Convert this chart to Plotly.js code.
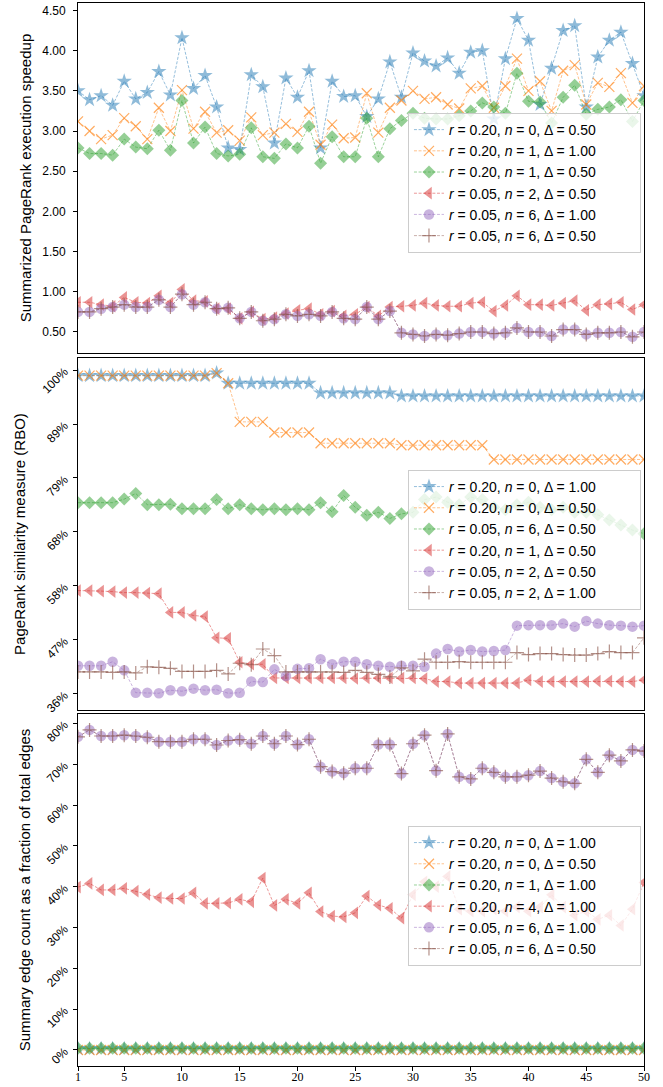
<!DOCTYPE html>
<html>
<head>
<meta charset="utf-8">
<script src="https://cdn.plot.ly/plotly-3.0.1.min.js"></script>
<style>
html,body{margin:0;padding:0;background:#ffffff;}
#chart{width:663px;height:1087px;}
</style>
</head>
<body>
<div id="chart"></div>
<script>
// ---------- shared x categories ----------
const runs = [1,2,3,4,5,6,7,8,9,10,11,12,13,14,15,16,17,18,19,20,21,22,23,24,25,
              26,27,28,29,30,31,32,33,34,35,36,37,38,39,40,41,42,43,44,45,46,47,48,49,50];
const xTickVals = [1,5,10,15,20,25,30,35,40,45,50];

// ---------- panel 1: Summarized PageRank execution speedup ----------
const speedupLegend = [
  ["0.20","0","0.50"], ["0.20","1","1.00"], ["0.20","1","0.50"],
  ["0.05","2","0.50"], ["0.05","6","1.00"], ["0.05","6","0.50"]
];
const speedupBlue = [3.50,3.39,3.44,3.32,3.62,3.40,3.48,3.74,3.45,4.16,
                     3.53,3.69,3.30,2.79,2.77,3.70,3.55,2.85,3.66,3.42,
                     3.75,2.79,3.62,3.43,3.44,3.18,3.40,3.86,3.42,3.97,
                     3.87,3.81,3.91,3.72,3.98,4.00,3.15,3.90,4.40,4.13,
                     3.33,3.78,4.25,4.31,3.30,3.92,4.13,4.23,3.84,3.44];
const speedupOrange = [3.12,3.00,2.90,2.95,3.16,3.06,2.90,3.29,3.00,3.51,
                       3.03,3.24,2.98,3.01,2.88,3.17,2.95,2.98,3.09,2.99,
                       3.24,2.83,3.08,2.91,2.92,3.47,2.98,3.29,3.38,3.50,
                       3.40,3.42,3.33,3.28,3.53,3.56,3.29,3.56,3.90,3.50,
                       3.62,3.25,3.75,3.82,3.33,3.60,3.55,3.72,3.35,3.56];
const speedupGreen = [2.79,2.72,2.72,2.70,2.90,2.80,2.78,3.01,2.76,3.38,
                      2.85,3.05,2.72,2.69,2.71,3.04,2.68,2.66,2.84,2.79,
                      3.06,2.60,2.93,2.68,2.68,3.16,2.68,3.03,3.13,3.22,
                      3.16,3.15,3.15,3.19,3.25,3.35,3.30,3.22,3.72,3.37,
                      3.36,3.10,3.42,3.57,3.21,3.27,3.30,3.39,3.12,3.38];
const speedupRed = [0.87,0.87,0.84,0.82,0.93,0.87,0.86,0.95,0.86,1.03,
                    0.89,0.88,0.79,0.79,0.67,0.75,0.66,0.68,0.73,0.77,
                    0.79,0.72,0.76,0.70,0.72,0.81,0.70,0.81,0.82,0.83,
                    0.86,0.83,0.82,0.82,0.86,0.87,0.76,0.83,0.95,0.84,
                    0.84,0.83,0.86,0.89,0.77,0.84,0.85,0.87,0.78,0.84];
const speedupPurple = [0.75,0.75,0.79,0.81,0.84,0.81,0.81,0.90,0.81,0.97,
                       0.84,0.87,0.79,0.80,0.67,0.75,0.64,0.66,0.72,0.70,
                       0.72,0.70,0.75,0.67,0.66,0.81,0.66,0.76,0.49,0.47,
                       0.45,0.47,0.46,0.48,0.50,0.50,0.48,0.49,0.55,0.50,
                       0.50,0.45,0.53,0.53,0.47,0.49,0.49,0.50,0.44,0.50];
const speedupBrown = [0.75,0.75,0.79,0.81,0.84,0.81,0.81,0.90,0.81,0.97,
                      0.84,0.87,0.79,0.80,0.67,0.75,0.64,0.66,0.72,0.70,
                      0.72,0.70,0.75,0.67,0.66,0.81,0.66,0.76,0.49,0.47,
                      0.45,0.47,0.46,0.48,0.50,0.50,0.48,0.49,0.55,0.50,
                      0.50,0.45,0.53,0.53,0.47,0.49,0.49,0.50,0.44,0.50];
const speedupTickVals = [0.5,1.0,1.5,2.0,2.5,3.0,3.5,4.0,4.5];
const speedupTickText = ["0.50","1.00","1.50","2.00","2.50","3.00","3.50","4.00","4.50"];

// ---------- panel 2: PageRank similarity measure (RBO), in percent ----------
const rboLegend = [
  ["0.20","0","1.00"], ["0.20","0","0.50"], ["0.05","6","0.50"],
  ["0.20","1","0.50"], ["0.05","2","0.50"], ["0.05","2","1.00"]
];
const rboBlue = [98.9,98.9,98.9,98.9,98.9,98.9,98.9,98.9,98.9,98.9,
                 98.9,98.9,99.4,97.4,97.4,97.4,97.4,97.4,97.4,97.4,
                 97.4,95.5,95.5,95.5,95.5,95.5,95.5,95.5,94.9,94.9,
                 94.9,94.9,94.9,94.9,94.9,94.9,94.9,94.9,94.9,94.9,
                 94.9,94.9,94.9,94.9,94.9,94.9,94.9,94.9,94.9,94.9];
const rboOrange = [98.9,98.9,98.9,98.9,98.9,98.9,98.9,98.9,98.9,98.9,
                   98.9,98.9,99.4,97.4,89.8,89.8,89.8,87.7,87.7,87.7,
                   87.7,85.6,85.6,85.6,85.6,85.6,85.6,85.6,85.2,85.2,
                   85.2,85.2,85.2,85.2,85.2,85.2,82.4,82.4,82.4,82.4,
                   82.4,82.4,82.4,82.4,82.4,82.4,82.4,82.4,82.4,82.4];
const rboGreen = [73.9,73.9,73.9,73.9,74.6,75.7,73.5,73.5,73.6,72.7,
                  72.7,72.7,74.5,72.7,73.5,72.7,72.5,72.7,72.5,72.7,
                  72.5,73.9,72.1,75.3,73.0,71.4,72.0,70.8,71.7,72.0,
                  74.5,75.0,74.0,73.5,75.0,74.5,73.0,72.5,73.5,74.0,
                  73.0,72.5,73.0,72.0,72.0,71.5,70.5,69.5,68.5,67.8];
const rboRed = [56.6,56.6,56.5,56.4,56.2,56.2,56.1,56.0,52.3,52.3,
                51.7,51.5,47.3,47.2,42.5,42.1,42.1,39.4,39.4,39.4,
                39.4,39.4,39.4,39.4,39.3,39.4,39.4,39.4,39.4,39.4,
                39.3,38.7,38.7,38.4,38.4,38.4,38.4,38.4,38.4,39.0,
                38.7,38.7,38.7,38.7,38.7,38.8,38.8,38.7,38.7,39.0];
const rboPurple = [41.8,41.8,41.8,42.6,40.9,36.5,36.5,36.4,37.0,36.8,
                   37.3,37.0,37.1,36.4,36.5,38.7,38.6,41.1,39.8,41.2,
                   41.3,43.1,42.1,42.6,42.6,42.1,41.8,41.6,41.8,41.8,
                   41.6,44.2,45.1,44.6,44.9,44.6,44.7,44.9,49.7,49.8,
                   49.8,49.8,50.1,49.5,50.6,50.1,49.8,49.7,49.5,49.7];
const rboBrown = [40.6,40.6,40.6,40.5,40.6,40.4,41.6,41.5,41.3,40.7,
                  40.7,40.7,40.9,40.2,42.3,42.0,45.1,43.8,40.6,40.6,
                  40.6,40.6,40.6,40.5,40.9,40.5,40.1,39.6,41.4,40.8,
                  43.1,42.5,42.5,42.6,42.5,42.5,42.5,42.5,44.4,44.0,
                  44.2,44.2,44.0,43.9,43.9,44.2,44.6,44.4,44.4,47.3];
const rboTickVals = [36.3,46.92,57.53,68.15,78.77,89.38,100];
const rboTickText = ["36%","47%","58%","68%","79%","89%","100%"];

// ---------- panel 3: Summary edge count as a fraction of total edges (%) ----------
const edgeLegend = [
  ["0.20","0","1.00"], ["0.20","0","0.50"], ["0.20","1","1.00"],
  ["0.20","4","1.00"], ["0.05","6","1.00"], ["0.05","6","0.50"]
];
const edgeBlue = [0.3,0.3,0.3,0.3,0.3,0.3,0.3,0.3,0.3,0.3,
                  0.3,0.3,0.3,0.3,0.3,0.3,0.3,0.3,0.3,0.3,
                  0.3,0.3,0.3,0.3,0.3,0.3,0.3,0.3,0.3,0.3,
                  0.3,0.3,0.3,0.3,0.3,0.3,0.3,0.3,0.3,0.3,
                  0.3,0.3,0.3,0.3,0.3,0.3,0.3,0.3,0.3,0.3];
const edgeOrange = [0.0,0.0,0.0,0.0,0.0,0.0,0.0,0.0,0.0,0.0,
                    0.0,0.0,0.0,0.0,0.0,0.0,0.0,0.0,0.0,0.0,
                    0.0,0.0,0.0,0.0,0.0,0.0,0.0,0.0,0.0,0.0,
                    0.0,0.0,0.0,0.0,0.0,0.0,0.0,0.0,0.0,0.0,
                    0.0,0.0,0.0,0.0,0.0,0.0,0.0,0.0,0.0,0.0];
const edgeGreen = [0.4,0.4,0.4,0.4,0.4,0.4,0.4,0.4,0.4,0.4,
                   0.4,0.4,0.4,0.4,0.4,0.4,0.4,0.4,0.4,0.4,
                   0.4,0.4,0.4,0.4,0.4,0.4,0.4,0.4,0.4,0.4,
                   0.4,0.4,0.4,0.4,0.4,0.4,0.4,0.4,0.4,0.4,
                   0.4,0.4,0.4,0.4,0.4,0.4,0.4,0.4,0.4,0.4];
const edgeRed = [39.9,40.8,39.2,39.2,39.6,38.9,38.1,37.3,37.1,37.1,
                 38.5,35.9,35.9,36.0,36.9,36.3,42.1,35.4,36.9,35.9,
                 38.5,33.9,32.8,32.6,33.6,37.7,35.5,34.7,32.3,38.0,
                 41.2,40.0,42.5,34.5,34.0,34.0,34.5,34.0,35.0,34.0,
                 35.0,38.0,35.0,33.0,34.0,32.0,33.0,30.5,34.5,41.0];
const edgePurple = [76.7,78.4,76.9,76.9,77.1,76.9,76.6,75.5,75.5,75.5,
                    76.1,76.1,74.7,75.8,76.0,75.0,76.9,75.0,76.9,74.8,
                    76.1,69.4,68.2,67.8,69.0,69.0,74.8,74.8,67.7,75.0,
                    77.1,68.4,77.4,66.9,66.4,69.0,68.0,66.9,66.9,67.3,
                    68.3,66.6,65.7,65.3,71.2,68.0,72.2,70.8,73.5,73.2];
const edgeBrown = [76.7,78.4,76.9,76.9,77.1,76.9,76.6,75.5,75.5,75.5,
                   76.1,76.1,74.7,75.8,76.0,75.0,76.9,75.0,76.9,74.8,
                   76.1,69.4,68.2,67.8,69.0,69.0,74.8,74.8,67.7,75.0,
                   77.1,68.4,77.4,66.9,66.4,69.0,68.0,66.9,66.9,67.3,
                   68.3,66.6,65.7,65.3,71.2,68.0,72.2,70.8,73.5,73.2];
const edgeTickVals = [0,10,20,30,40,50,60,70,80];
const edgeTickText = ["0%","10%","20%","30%","40%","50%","60%","70%","80%"];

// ---------- styles (matplotlib tab10 with alpha) ----------
const styles = [
  {rgb:"31,119,180",  symbol:"star",          size:11.5, open:false},
  {rgb:"255,127,14",  symbol:"x-thin",        size:10, open:true},
  {rgb:"44,160,44",   symbol:"diamond",       size:10, open:false},
  {rgb:"214,39,40",   symbol:"triangle-left", size:11, open:false},
  {rgb:"148,103,189", symbol:"circle",        size:10.5, open:false},
  {rgb:"140,86,75",   symbol:"cross-thin",    size:10, open:true}
];

const legendPad = "\u00a0\u00a0\u00a0\u00a0\u00a0\u00a0\u00a0\u00a0\u00a0\u00a0";
function label(p) {
  return "<i>r</i> = " + p[0] + ", <i>n</i> = " + p[1] + ", \u0394 = " + p[2] + legendPad;
}

function makeTraces(seriesList, legendList, xa, ya, legendId) {
  return seriesList.map(function(vals, i) {
    const s = styles[i];
    const mc = "rgba(" + s.rgb + ",0.5)";
    return {
      type: "scatter", mode: "lines+markers",
      x: runs, y: vals,
      xaxis: xa, yaxis: ya, legend: legendId,
      name: label(legendList[i]),
      line: {color: "rgba(" + s.rgb + ",0.6)", width: 0.8, dash: "3px,1.6px"},
      marker: {
        symbol: s.symbol, size: s.size, color: mc,
        line: s.open ? {color: "rgba(" + s.rgb + ",0.65)", width: 1.2} : {width: 0}
      },
      hoverinfo: "skip"
    };
  });
}

const data = []
  .concat(makeTraces([speedupBlue, speedupOrange, speedupGreen, speedupRed, speedupPurple, speedupBrown],
                     speedupLegend, "x", "y", "legend"))
  .concat(makeTraces([rboBlue, rboOrange, rboGreen, rboRed, rboPurple, rboBrown],
                     rboLegend, "x2", "y2", "legend2"))
  .concat(makeTraces([edgeBlue, edgeOrange, edgeGreen, edgeRed, edgePurple, edgeBrown],
                     edgeLegend, "x3", "y3", "legend3"));

const axisLine = {showline: true, linecolor: "#000000", linewidth: 1, mirror: true,
                  showgrid: false, zeroline: false};
const tickFont = {family: "Liberation Sans, Arial, sans-serif", size: 12, color: "#000000"};
const titleFont = {family: "Liberation Sans, Arial, sans-serif", size: 15, color: "#000000"};
const legendBase = {
  xanchor: "left", yanchor: "top", x: 0.583,
  bgcolor: "rgba(255,255,255,0.8)", bordercolor: "#cccccc", borderwidth: 1,
  font: {family: "Liberation Sans, Arial, sans-serif", size: 14, color: "#000000"},
  tracegroupgap: 0
};

const layout = {
  width: 663, height: 1087,
  margin: {l: 78, r: 19, t: 3, b: 21},
  paper_bgcolor: "#ffffff", plot_bgcolor: "#ffffff",
  font: {family: "Liberation Sans, Arial, sans-serif", color: "#000000"},
  showlegend: true,
  xaxis: Object.assign({}, axisLine, {anchor: "y", range: [1, 50], showticklabels: false, ticks: ""}),
  yaxis: Object.assign({}, axisLine, {
    anchor: "x", domain: [0.6707, 1], range: [0.238, 4.593],
    tickvals: speedupTickVals, ticktext: speedupTickText,
    ticks: "outside", ticklen: 4, tickwidth: 1, tickcolor: "#000000", tickfont: tickFont,
    ticklabelstandoff: 5,
    title: {text: "Summarized PageRank execution speedup", font: titleFont, standoff: 6}
  }),
  xaxis2: Object.assign({}, axisLine, {anchor: "y2", range: [1, 50], showticklabels: false, ticks: ""}),
  yaxis2: Object.assign({}, axisLine, {
    anchor: "x2", domain: [0.3349, 0.666], range: [33.1, 102.36],
    tickvals: rboTickVals, ticktext: rboTickText, tickangle: -45,
    ticks: "outside", ticklen: 4, tickwidth: 1, tickcolor: "#000000", tickfont: tickFont,
    ticklabelstandoff: 6,
    title: {text: "PageRank similarity measure (RBO)", font: titleFont, standoff: 10}
  }),
  xaxis3: Object.assign({}, axisLine, {
    anchor: "y3", range: [1, 50], tickvals: xTickVals,
    ticks: "outside", ticklen: 4, tickwidth: 1, tickcolor: "#000000",
    ticklabelstandoff: -4,
    tickfont: {family: "Liberation Serif, Times New Roman, serif", size: 12, color: "#000000"}
  }),
  yaxis3: Object.assign({}, axisLine, {
    anchor: "x3", domain: [0, 0.3311], range: [-3.92, 82.28],
    tickvals: edgeTickVals, ticktext: edgeTickText, tickangle: -45,
    ticks: "outside", ticklen: 4, tickwidth: 1, tickcolor: "#000000", tickfont: tickFont,
    ticklabelstandoff: 6,
    title: {text: "Summary edge count as a fraction of total edges", font: titleFont, standoff: 9}
  }),
  legend: Object.assign({}, legendBase, {y: 0.8965}),
  legend2: Object.assign({}, legendBase, {y: 0.5607}),
  legend3: Object.assign({}, legendBase, {y: 0.2258})
};

Plotly.newPlot("chart", data, layout, {staticPlot: true, displayModeBar: false});
</script>
</body>
</html>
